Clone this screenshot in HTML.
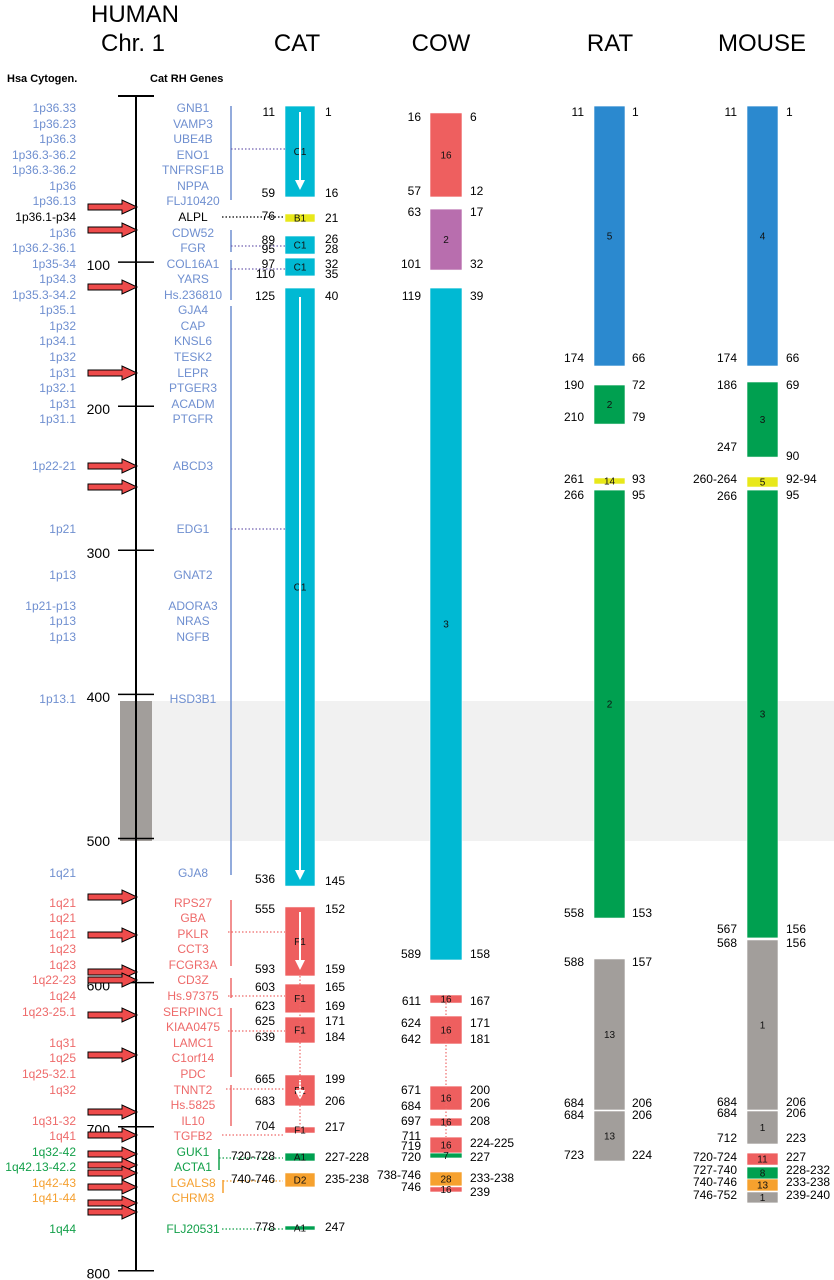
<!DOCTYPE html>
<html><head><meta charset="utf-8"><style>
html,body{margin:0;padding:0;background:#fff;}
svg{display:block;font-family:"Liberation Sans",Arial,sans-serif;}
</style></head><body>
<svg id="fig" width="834" height="1280" viewBox="0 0 834 1280" xmlns="http://www.w3.org/2000/svg">
<rect x="150" y="701" width="684" height="140" fill="#f1f1f1"/>
<text x="135" y="22" font-size="24" text-anchor="middle">HUMAN</text>
<text x="133" y="51" font-size="24" text-anchor="middle">Chr. 1</text>
<text x="297" y="51" font-size="24" text-anchor="middle">CAT</text>
<text x="441" y="51" font-size="24" text-anchor="middle">COW</text>
<text x="610" y="51" font-size="24" text-anchor="middle">RAT</text>
<text x="762" y="51" font-size="24" text-anchor="middle">MOUSE</text>
<text x="7" y="82" font-size="11" font-weight="bold">Hsa Cytogen.</text>
<text x="150" y="82" font-size="11" font-weight="bold">Cat RH Genes</text>
<rect x="120" y="701" width="32" height="140" fill="#a29e9b"/>
<g id="g"></g>
</svg>
<script>
// ---- data ----
const axisTicks=[0,100,200,300,400,500,600,700,800];
const axisTickLabels=["","100","200","300","400","500","600","700","800"];
const catStart=[-8.3,66.6,81.9,97.2,118,547.5,601,623.9,664.1,700.2,718.3,732.1,768.9];
const catEnd=[54.8,72.2,94.4,109.6,533,595.4,621,641.9,685.6,704.4,723.8,741.8,771.7];
const catLabel=["C1","B1","C1","C1","C1","F1","F1","F1","F1","F1","A1","D2","A1"];
const catColor=["c","y","c","c","c","r","r","r","r","r","g","o","g"];
const cowStart=[-3.5,63.2,118,608.6,623.2,671.8,694,707.2,718.3,731.4,741.8];
const cowEnd=[54.8,105.5,584.3,614.2,642.6,688.4,699.5,718.3,721.7,741.1,745.3];
const cowLabel=["16","2","3","16","16","16","16","16","7","28","16"];
const cowColor=["r","p","c","r","r","r","r","r","g","o","r"];
const ratStart=[-8.3,185.3,249.8,258.2,583.6,689.1];
const ratEnd=[172.1,212.4,254,555.2,688.4,723.8];
const ratLabel=["5","2","14","2","13","13"];
const ratColor=["b","g","y","g","k","k"];
const mouseStart=[-8.3,183.2,249.1,258.2,570.4,689.1,718.3,728,736.3,745.3];
const mouseEnd=[172.1,235.3,256.1,569,688.4,712,726.6,736.3,744.6,752.9];
const mouseLabel=["4","3","5","3","1","1","11","8","13","1"];
const mouseColor=["b","g","y","g","k","k","r","g","o","k"];
// ---- helpers ----
const NS="http://www.w3.org/2000/svg";
const G=document.getElementById('g');
const COL={c:"#00b9d3",y:"#e8e81a",r:"#ee5f5f",g:"#00a050",o:"#f6a12e",p:"#b86eae",b:"#2b89cf",k:"#a29e9b"};
function yv(v){return 118+1.441*v;}
function mk(tag,at){const e=document.createElementNS(NS,tag);for(const k in at)e.setAttribute(k,at[k]);G.appendChild(e);return e;}
function txt(x,y,s,size,anchor,fill,name){const t=mk('text',{x:x,y:y,'font-size':size,'text-anchor':anchor,fill:fill,'dominant-baseline':'middle'});t.textContent=s;


return t;}
// axis
const axisLine=mk('line',{x1:136,y1:96,x2:136,y2:yv(800),stroke:'#000','stroke-width':2});


const axisTopTick=mk('line',{x1:118,y1:96,x2:154,y2:96,stroke:'#000','stroke-width':2});


axisTicks.forEach((v,i)=>{if(!axisTickLabels[i])return;const l=mk('line',{x1:118,y1:yv(v),x2:154,y2:yv(v),stroke:'#000','stroke-width':1.5});


txt(110,yv(v)+4,axisTickLabels[i],14,'end','#000','axis-tick-label-'+v);});
// blocks
function drawCol(name,x,w,S,E,L,C){S.forEach((s,i)=>{const y0=yv(s),y1=yv(E[i]);const r=mk('rect',{x:x,y:y0,width:w,height:Math.max(3,y1-y0),fill:COL[C[i]],stroke:'#fff','stroke-width':0.6});


txt(x+w/2,(y0+y1)/2+1,L[i],10,'middle','#111',name+'-block-label-'+i);});}
drawCol('cat',285,30,catStart,catEnd,catLabel,catColor);
drawCol('cow',430,32,cowStart,cowEnd,cowLabel,cowColor);
drawCol('rat',594,31,ratStart,ratEnd,ratLabel,ratColor);
drawCol('mouse',747,31,mouseStart,mouseEnd,mouseLabel,mouseColor);
// cat white arrows
[[112,190],[297,880],[912,970],[1080,1100]].forEach((a,i)=>{const l=mk('line',{x1:300,y1:a[0],x2:300,y2:a[1]-8,stroke:'#fff','stroke-width':2});


const p=mk('polygon',{points:`295,${a[1]-10} 305,${a[1]-10} 300,${a[1]}`,fill:'#fff'});

});
// red breakpoint arrows
[207,230,287,373,466,487,897,935,972,980,1015,1055,1112,1135,1154,1165,1173,1187,1203,1212].forEach((y,i)=>{const p=mk('polygon',{points:`88,${y-3} 122,${y-3} 122,${y-7} 137,${y} 122,${y+7} 122,${y+3} 88,${y+3}`,fill:'#ee4b4b',stroke:'#000','stroke-width':1});

});
// cytogenetic and gene labels
const B="#6f8fd0",R="#ee6a6a",GR="#13a04a",O="#f5a030";
const rows=[[108,"1p36.33","GNB1",B],[124,"1p36.23","VAMP3",B],[139,"1p36.3","UBE4B",B],[155,"1p36.3-36.2","ENO1",B],[170,"1p36.3-36.2","TNFRSF1B",B],[186,"1p36","NPPA",B],[201,"1p36.13","FLJ10420",B],[217,"1p36.1-p34","ALPL","#000"],[233,"1p36","CDW52",B],[248,"1p36.2-36.1","FGR",B],[264,"1p35-34","COL16A1",B],[279,"1p34.3","YARS",B],[295,"1p35.3-34.2","Hs.236810",B],[310,"1p35.1","GJA4",B],[326,"1p32","CAP",B],[341,"1p34.1","KNSL6",B],[357,"1p32","TESK2",B],[373,"1p31","LEPR",B],[388,"1p32.1","PTGER3",B],[404,"1p31","ACADM",B],[419,"1p31.1","PTGFR",B],[466,"1p22-21","ABCD3",B],[529,"1p21","EDG1",B],[575,"1p13","GNAT2",B],[606,"1p21-p13","ADORA3",B],[621,"1p13","NRAS",B],[637,"1p13","NGFB",B],[699,"1p13.1","HSD3B1",B],[873,"1q21","GJA8",B],
[903,"1q21","RPS27",R],[918,"1q21","GBA",R],[934,"1q21","PKLR",R],[949,"1q23","CCT3",R],[965,"1q23","FCGR3A",R],[980,"1q22-23","CD3Z",R],[996,"1q24","Hs.97375",R],[1012,"1q23-25.1","SERPINC1",R],[1027,"","KIAA0475",R],[1043,"1q31","LAMC1",R],[1058,"1q25","C1orf14",R],[1074,"1q25-32.1","PDC",R],[1090,"1q32","TNNT2",R],[1105,"","Hs.5825",R],[1121,"1q31-32","IL10",R],[1136,"1q41","TGFB2",R],[1152,"1q32-42","GUK1",GR],[1167,"1q42.13-42.2","ACTA1",GR],[1183,"1q42-43","LGALS8",O],[1198,"1q41-44","CHRM3",O],[1229,"1q44","FLJ20531",GR]];
rows.forEach((r,i)=>{if(r[1])txt(76,r[0]+1,r[1],12,'end',r[3],'cytoband-label-'+i);
txt(193,r[0]+1,r[2],12,'middle',r[3],'gene-label-'+i);});
// gene group lines
[[106,200,B],[230,252,B],[260,300,B],[306,875,B],[900,966,R],[978,998,R],[1008,1077,R],[1085,1126,R],[1149,1170,GR],[1180,1193,O]].forEach((s,i)=>{const gx=i==8?219:(i==9?223:231);const l=mk('line',{x1:gx,y1:s[0],x2:gx,y2:s[1],stroke:s[2],'stroke-width':1.5});

});
// dotted connectors
[[231,149,285,"#7060b0"],[231,246,285,"#7060b0"],[231,269,285,"#7060b0"],[231,529,285,"#7060b0"],[222,217,285,"#000"],[228,932,285,R],[228,996,285,R],[228,1031,285,R],[226,1089,285,R],[222,1135,285,R],[219,1158,283,GR],[223,1181,283,O],[222,1229,285,GR]].forEach((c,i)=>{const l=mk('line',{x1:c[0],y1:c[1],x2:c[2],y2:c[1],stroke:c[3],'stroke-width':1.2,'stroke-dasharray':'1.5,2'});

});
[[300,976,1127],[446,1003,1137]].forEach((c,i)=>{const l=mk('line',{x1:c[0],y1:c[1],x2:c[0],y2:c[2],stroke:R,'stroke-width':1.2,'stroke-dasharray':'1.5,2'});

});
// position numbers
const nums={
cat:[275,325,[["11",113],["59",194],["76",217],["89",241],["95",250],["97",265],["110",275],["125",297],["536",880],["555",910],["593",970],["603",988],["623",1007],["625",1022],["639",1038],["665",1080],["683",1102],["704",1127],["720-728",1157],["740-746",1180],["778",1228]],[["1",113],["16",194],["21",219],["26",240],["28",250],["32",265],["35",275],["40",297],["145",882],["152",910],["159",970],["165",988],["169",1007],["171",1022],["184",1038],["199",1080],["206",1102],["217",1128],["227-228",1158],["235-238",1180],["247",1228]]],
cow:[421,470,[["16",118],["57",192],["63",213],["101",265],["119",297],["589",955],["611",1002],["624",1024],["642",1040],["671",1091],["684",1107],["697",1122],["711",1137],["719",1147],["720",1158],["738-746",1176],["746",1188]],[["6",118],["12",192],["17",213],["32",265],["39",297],["158",955],["167",1002],["171",1024],["181",1040],["200",1091],["206",1104],["208",1122],["224-225",1144],["227",1158],["233-238",1179],["239",1193]]],
rat:[584,632,[["11",113],["174",359],["190",386],["210",418],["261",480],["266",496],["558",914],["588",963],["684",1104],["684",1116],["723",1156]],[["1",113],["66",359],["72",386],["79",418],["93",480],["95",496],["153",914],["157",963],["206",1104],["206",1116],["224",1156]]],
mouse:[737,786,[["11",113],["174",359],["186",386],["247",448],["260-264",480],["266",497],["567",930],["568",944],["684",1103],["684",1114],["712",1139],["720-724",1158],["727-740",1171],["740-746",1183],["746-752",1196]],[["1",113],["66",359],["69",386],["90",457],["92-94",480],["95",496],["156",930],["156",944],["206",1103],["206",1114],["223",1139],["227",1158],["228-232",1171],["233-238",1183],["239-240",1196]]]};
for(const k in nums){const n=nums[k];n[2].forEach((a,i)=>txt(n[0],a[1],a[0],12,'end','#000',k+'-left-number-'+i));n[3].forEach((a,i)=>txt(n[1],a[1],a[0],12,'start','#000',k+'-right-number-'+i));}
</script>
</body></html>
